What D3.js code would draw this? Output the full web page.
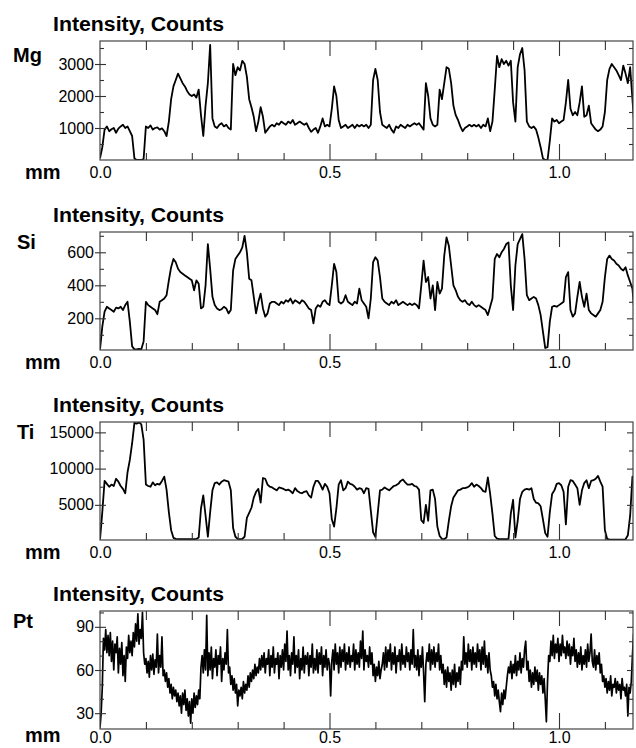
<!DOCTYPE html>
<html>
<head>
<meta charset="utf-8">
<script src="https://cdn.jsdelivr.net/npm/d3@7"></script>
<style>
  body { margin: 0; background: #fff; }
  text { font-family: Arial, "Liberation Sans", Helvetica, sans-serif; }
</style>
</head>
<body>
<div id="chart"></div>
<script>
// sampling step along the scan (mm)
var step = 0.005;
var ptStep = 0.0025;

var mgCounts = [
  50, 400, 950, 1050, 900, 960, 1000, 850, 980, 1050,
  1100, 1000, 1050, 900, 750, 50, 0, 0, 0, 30,
  1050, 1000, 1080, 950, 1000, 1020, 950, 990, 900, 750,
  1200, 1900, 2300, 2500, 2700, 2550, 2400, 2300, 2150, 2050,
  2000, 2050, 1950, 2200, 1400, 750, 1700, 2400, 3600, 1300,
  1050, 1000, 1100, 1150, 1050, 1100, 1000, 950, 3000, 2650,
  2900, 2800, 3100, 3000, 2600, 1900, 1650, 1350, 900, 1200,
  1650, 1350, 850, 950, 1050, 1100, 1050, 1150, 1100, 1200,
  1150, 1100, 1200, 1150, 1250, 1100, 1150, 1200, 1150, 1100,
  1150, 1000, 880, 950, 1000, 850, 1050, 1300, 1050, 1100,
  1050, 1600, 2300, 2000, 1250, 1000, 1050, 1100, 1000, 1050,
  1100, 1000, 1100, 1050, 1100, 1050, 1100, 1000, 1100, 2500,
  2850, 2500, 1500, 1100, 1050, 1000, 1100, 950, 850, 1050,
  1000, 1100, 1050, 1000, 1100, 1050, 1100, 1150, 1100, 1150,
  1050, 950, 2400, 2000, 1300, 1100, 1050, 1100, 2200, 1900,
  2400, 2900, 2850, 2400, 1700, 1400, 1250, 1050, 900, 1000,
  1050, 1100, 1050, 1100, 1050, 1100, 1000, 1100, 1050, 1300,
  900, 1200, 2200, 3250, 2900, 3150, 3000, 3100, 2950, 3100,
  1800, 1200, 2900, 3300, 3500, 2800, 1200, 1050, 1000, 1050,
  950, 700, 400, 50, 0, 0, 600, 1300, 1200, 1250,
  1150, 1200, 1250, 1800, 2500, 1600, 1400, 1500, 1400, 1800,
  2300, 1350, 1400, 1700, 1150, 1050, 950, 900, 950, 1050,
  1500, 2500, 2850, 3000, 2900, 2800, 2650, 2500, 2950, 2700,
  2400, 2900, 1900, 850
];

var siCounts = [
  10, 150, 240, 270, 260, 250, 240, 265, 260, 270,
  250, 280, 300, 180, 30, 12, 12, 15, 12, 60,
  300, 280, 270, 260, 250, 225, 300, 310, 320, 340,
  430, 510, 560, 540, 500, 480, 470, 460, 450, 440,
  430, 370, 430, 410, 260, 270, 400, 650, 500, 330,
  280, 260, 250, 255, 270, 260, 230, 250, 490, 560,
  580, 600, 630, 700, 600, 440, 430, 330, 230, 300,
  350, 260, 210, 230, 290, 300, 300, 290, 280, 300,
  290, 310, 300, 320, 290, 310, 300, 290, 310, 300,
  280, 260, 250, 170, 260, 280, 270, 300, 310, 290,
  280, 400, 530, 480, 300, 290, 300, 340, 300, 290,
  280, 300, 290, 380, 310, 290, 270, 200, 320, 540,
  570, 550, 450, 320, 300, 290, 280, 300, 290, 310,
  280, 290, 300, 290, 280, 290, 280, 290, 280, 260,
  400, 550, 420, 450, 320, 400, 250, 420, 350, 380,
  580, 690, 640, 520, 400, 370, 330, 310, 300, 310,
  290, 280, 300, 280, 270, 280, 270, 260, 250, 220,
  270, 320, 560, 590, 570, 600, 620, 650, 660, 400,
  250, 520, 650, 680, 710, 560, 340, 310, 320, 330,
  320, 280, 220, 120, 20, 25, 180, 270, 275, 270,
  280, 290, 300, 450, 480, 250, 210, 230, 330, 420,
  330, 270, 350, 250, 230, 220, 210, 230, 250, 300,
  450, 560, 580, 560, 550, 530, 520, 500, 490, 510,
  460, 420, 380, 210
];

var tiCounts = [
  200, 4000, 8300, 7900, 7500, 7800, 7600, 8600, 8200, 7600,
  7200, 6600, 9500, 11200, 13500, 16300, 16200, 16400, 16100, 14000,
  7800, 7600, 7500, 8100, 7700, 7900, 7800, 8300, 8900, 7100,
  4000, 1500, 450, 300, 280, 280, 280, 280, 280, 280,
  280, 280, 300, 500, 4500, 6300, 3500, 600, 4000, 7000,
  8000, 8100, 7800, 8200, 8400, 8300, 8200, 7000, 1800, 600,
  300, 280, 300, 600, 3200, 3900, 4600, 6000, 6800, 7200,
  5300, 8700, 8600, 7800, 7500, 7400, 7200, 7000, 7400, 7300,
  7200, 7000, 7100, 6900, 6600, 7300, 6900, 6700, 6600, 6800,
  6900, 6300, 6000, 7500, 8300, 8300, 7800, 7100, 7900, 7500,
  6600, 3000, 2000, 4500, 7800, 8400, 7000, 7300, 8200, 7900,
  7800, 7500, 7100, 7300, 7200, 6600, 7300, 7200, 4200, 1200,
  600, 3800, 7000, 7100, 7400, 7200, 7000, 7300, 7600, 7700,
  7900, 8300, 8500, 8100, 7800, 7800, 7900, 7600, 7500, 7100,
  2900, 2500, 5000, 2800, 7000, 7100, 5800, 2000, 700, 300,
  280, 500, 2800, 4800, 6000, 6500, 7000, 7100, 7300, 7300,
  7400, 7600, 8000, 7500, 7800, 7600, 7300, 6900, 6800, 8800,
  6500, 3800, 700, 350, 280, 280, 280, 280, 300, 3800,
  5700, 500, 2800, 5800, 6800, 7100, 7200, 7100, 7300, 5800,
  5300, 5200, 4800, 3000, 1100, 600, 4000, 6500, 7000, 7900,
  8000, 7700, 6800, 2300, 7500, 8400, 8300, 7800, 7300, 5000,
  7000, 8000, 8400, 7300, 8300, 8400, 8600, 9000, 8200, 7500,
  1500, 300, 200, 200, 200, 200, 200, 200, 200, 250,
  800, 3500, 8900, 7700
];

var ptCounts = [
  20, 30, 48, 82, 74, 88, 72, 84, 70, 86,
  66, 80, 60, 78, 72, 83, 58, 75, 64, 79,
  56, 70, 52, 76, 68, 84, 72, 80, 70, 86,
  76, 92, 80, 99, 78, 88, 82, 100, 72, 64,
  68, 58, 66, 55, 70, 60, 71, 57, 67, 62,
  85, 58, 70, 62, 83, 56, 60, 52, 58, 48,
  54, 44, 50, 40, 48, 42, 46, 38, 44, 35,
  42, 30, 44, 36, 46, 32, 40, 28, 38, 23,
  40, 30, 44, 34, 42, 36, 46, 40, 62, 70,
  58, 74, 60, 98, 56, 72, 60, 76, 54, 68,
  62, 74, 56, 70, 64, 76, 52, 68, 60, 72,
  64, 88, 58, 62, 50, 56, 46, 54, 44, 50,
  35, 46, 42, 48, 40, 52, 44, 50, 46, 56,
  48, 58, 52, 60, 54, 64, 56, 62, 58, 68,
  60, 70, 62, 72, 58, 68, 64, 74, 56, 70,
  62, 76, 58, 68, 64, 72, 54, 70, 62, 74,
  60, 78, 66, 87, 60, 70, 56, 72, 64, 83,
  58, 70, 62, 74, 54, 68, 60, 76, 58, 70,
  64, 72, 56, 70, 62, 78, 58, 68, 60, 74,
  58, 72, 64, 76, 56, 70, 62, 74, 60, 68,
  64, 42, 66, 74, 60, 78, 64, 72, 58, 76,
  62, 74, 66, 78, 60, 72, 64, 76, 62, 70,
  66, 78, 60, 74, 64, 72, 62, 80, 68, 87,
  60, 74, 66, 70, 62, 76, 64, 72, 56, 64,
  52, 62, 56, 66, 54, 60, 64, 72, 60, 76,
  62, 74, 66, 78, 60, 72, 64, 76, 58, 70,
  66, 74, 60, 78, 64, 70, 62, 76, 66, 72,
  60, 74, 64, 88, 62, 70, 60, 74, 56, 70,
  62, 76, 58, 38, 64, 72, 66, 78, 60, 74,
  64, 76, 62, 72, 66, 78, 60, 70, 58, 64,
  50, 60, 48, 62, 52, 58, 46, 60, 50, 64,
  48, 58, 52, 62, 50, 66, 60, 83, 64, 72,
  62, 78, 66, 74, 60, 76, 64, 72, 62, 78,
  66, 74, 60, 76, 64, 80, 62, 70, 58, 72,
  60, 56, 48, 52, 42, 50, 40, 46, 38, 31,
  44, 36, 46, 40, 48, 56, 62, 58, 66, 54,
  64, 58, 70, 56, 66, 60, 72, 58, 68, 62,
  74, 80, 60, 66, 52, 60, 48, 58, 50, 62,
  52, 60, 46, 58, 50, 56, 44, 54, 40, 24,
  52, 70, 66, 80, 70, 84, 68, 78, 72, 82,
  66, 78, 70, 84, 72, 76, 68, 80, 70, 78,
  64, 76, 70, 82, 66, 74, 62, 72, 64, 76,
  60, 70, 64, 74, 62, 78, 66, 72, 85, 66,
  62, 74, 60, 70, 64, 72, 58, 64, 52, 56,
  48, 54, 44, 52, 46, 56, 42, 50, 48, 54,
  44, 52, 46, 50, 40, 54, 46, 48, 42, 50,
  28, 48, 44, 52, 70, 85, 80
];

// axis ranges and ticks
var mgDomain = [0, 3719], mgTicks = [1000, 2000, 3000], mgMinor = [500, 1500, 2500, 3500];
var siDomain = [8, 723], siTicks = [200, 400, 600], siMinor = [100, 300, 500, 700];
var tiDomain = [150, 16430], tiTicks = [5000, 10000, 15000], tiMinor = [2500, 7500, 12500];
var ptDomain = [19, 101], ptTicks = [30, 60, 90], ptMinor = [40, 50, 70, 80, 100];
var mmMinor = [0.1, 0.2, 0.3, 0.4, 0.6, 0.7, 0.8, 0.9, 1.1];
var mmMajor = [0.5, 1.0];
var mmLabels = [0.0, 0.5, 1.0];

var svg = d3.select("#chart").append("svg")
    .attr("width", 636)
    .attr("height", 748);

var left = 100;
var width = 533;
var x = d3.scaleLinear().domain([0, width / 459]).range([0, width]);

var panels = [
  { name: "Mg", values: mgCounts, step: step, domain: mgDomain, ticks: mgTicks, minor: mgMinor, top: 41, bottom: 160, nameX: 13, nameDy: 21, lw: 1.8, pad: 7, mmY: 179 },
  { name: "Si", values: siCounts, step: step, domain: siDomain, ticks: siTicks, minor: siMinor, top: 232, bottom: 350, nameX: 17, nameDy: 17, lw: 1.8, pad: 7, mmY: 369 },
  { name: "Ti", values: tiCounts, step: step, domain: tiDomain, ticks: tiTicks, minor: tiMinor, top: 422, bottom: 540, nameX: 17, nameDy: 17, lw: 1.8, pad: 7, mmY: 559 },
  { name: "Pt", values: ptCounts, step: ptStep, domain: ptDomain, ticks: ptTicks, minor: ptMinor, top: 611, bottom: 729, nameX: 13, nameDy: 17, lw: 1.7, pad: 3, mmY: 742 }
];

function styleAxis(sel) {
  sel.select(".domain").remove();
  sel.selectAll(".tick line").attr("stroke", "#333").attr("stroke-width", 1.1);
  sel.selectAll(".tick text").attr("fill", "#000").style("font-size", "16px")
    .style("font-family", "Arial, 'Liberation Sans', sans-serif");
}

panels.forEach(function(p, k) {
  var h = p.bottom - p.top;
  var g = svg.append("g").attr("transform", "translate(" + left + "," + p.top + ")");
  var y = d3.scaleLinear().domain(p.domain).range([h, 0]);

  g.append("clipPath").attr("id", "clip" + k)
    .append("rect").attr("width", width).attr("height", h);

  var line = d3.line()
    .x(function(d, i) { return x(i * p.step); })
    .y(function(d) { return y(d); });

  g.append("path")
    .datum(p.values)
    .attr("clip-path", "url(#clip" + k + ")")
    .attr("fill", "none")
    .attr("stroke", "#000")
    .attr("stroke-width", p.lw)
    .attr("stroke-linejoin", "round")
    .attr("d", line);

  // frame
  g.append("rect")
    .attr("width", width).attr("height", h)
    .attr("fill", "none").attr("stroke", "#444").attr("stroke-width", 1.2);

  // top ticks (pointing down)
  g.append("g").call(d3.axisBottom(x).tickValues(mmMinor).tickSize(9).tickFormat("")).call(styleAxis);
  g.append("g").call(d3.axisBottom(x).tickValues(mmMajor).tickSize(15).tickFormat("")).call(styleAxis);
  // bottom ticks (pointing up)
  g.append("g").attr("transform", "translate(0," + h + ")")
    .call(d3.axisTop(x).tickValues(mmMinor).tickSize(7).tickFormat("")).call(styleAxis);
  g.append("g").attr("transform", "translate(0," + h + ")")
    .call(d3.axisTop(x).tickValues(mmMajor).tickSize(16).tickFormat("")).call(styleAxis);
  // bottom labels
  g.append("g").attr("transform", "translate(0," + h + ")")
    .call(d3.axisBottom(x).tickValues(mmLabels).tickSize(0).tickPadding(p.pad).tickFormat(d3.format(".1f")))
    .call(styleAxis);

  // left axis: labelled ticks crossing the frame, minor ticks inside
  var yl = g.append("g")
    .call(d3.axisLeft(y).tickValues(p.ticks).tickSize(5).tickPadding(1).tickFormat(d3.format("d")))
    .call(styleAxis);
  yl.selectAll(".tick line").attr("x1", 6);
  g.append("g").call(d3.axisRight(y).tickValues(p.minor).tickSize(4).tickFormat("")).call(styleAxis);

  // right axis ticks (inward)
  g.append("g").attr("transform", "translate(" + width + ",0)")
    .call(d3.axisLeft(y).tickValues(p.ticks).tickSize(6).tickFormat("")).call(styleAxis);
  g.append("g").attr("transform", "translate(" + width + ",0)")
    .call(d3.axisLeft(y).tickValues(p.minor.filter(function(v) { return v <= p.domain[1]; })).tickSize(4).tickFormat("")).call(styleAxis);

  // texts
  svg.append("text")
    .attr("x", 53).attr("y", p.top - 10)
    .attr("textLength", 171).attr("lengthAdjust", "spacingAndGlyphs")
    .style("font-size", "20px").style("font-weight", "bold")
    .text("Intensity, Counts");

  svg.append("text")
    .attr("x", p.nameX).attr("y", p.top + p.nameDy)
    .style("font-size", "20px").style("font-weight", "bold")
    .text(p.name);

  svg.append("text")
    .attr("x", 25).attr("y", p.mmY)
    .style("font-size", "20px").style("font-weight", "bold")
    .text("mm");
});
</script>
</body>
</html>
